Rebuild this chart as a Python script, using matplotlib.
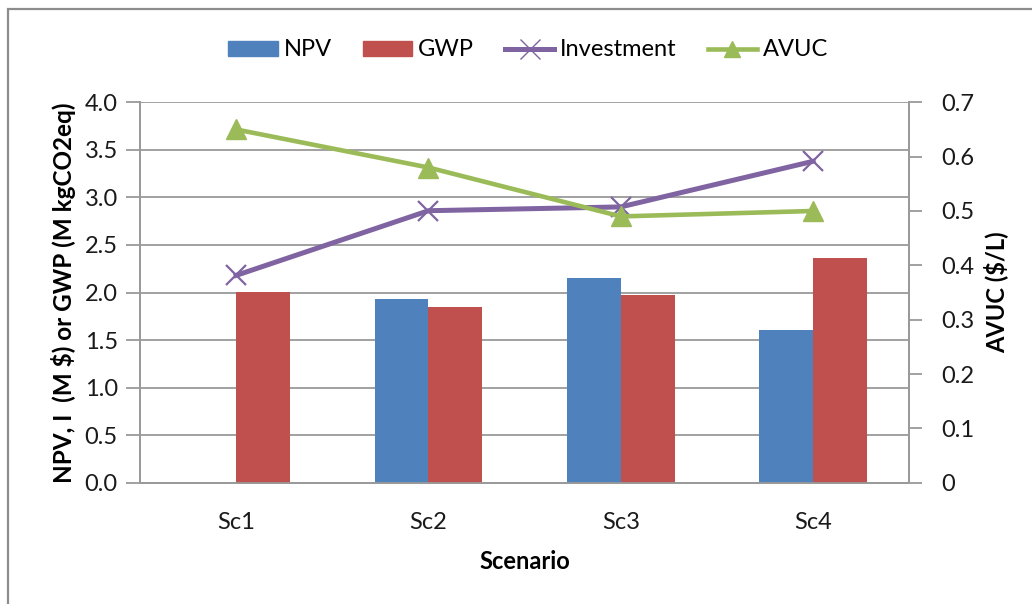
import matplotlib
matplotlib.use("Agg")
import matplotlib.pyplot as plt
import numpy as np
from matplotlib.patches import Rectangle
from matplotlib.lines import Line2D

plt.rcParams['font.family'] = ['Lato', 'DejaVu Sans']

scenarios = ["Sc1", "Sc2", "Sc3", "Sc4"]
npv = [0.0, 1.93, 2.15, 1.61]
gwp = [2.01, 1.85, 1.97, 2.36]
investment = [2.18, 2.86, 2.90, 3.38]
avuc = [0.65, 0.58, 0.49, 0.50]

left_ticks = [0.0, 0.5, 1.0, 1.5, 2.0, 2.5, 3.0, 3.5, 4.0]
left_tick_labels = ["0.0", "0.5", "1.0", "1.5", "2.0", "2.5", "3.0", "3.5", "4.0"]
right_ticks = [0.0, 0.1, 0.2, 0.3, 0.4, 0.5, 0.6, 0.7]
right_tick_labels = ["0", "0.1", "0.2", "0.3", "0.4", "0.5", "0.6", "0.7"]

C_NPV = "#4F81BD"
C_GWP = "#C0504D"
C_INV = "#8064A2"
C_AVUC = "#9BBB59"
C_AXIS = "#9A9A9A"

W, H = 1032, 604
fig = plt.figure(figsize=(W / 100, H / 100), dpi=100)
fig.patch.set_facecolor("white")

# chart-area frame (left and top edges visible)
fig.patches.append(Rectangle((8 / W, -0.1), 1.2, 1.1 - 9 / H,
                             transform=fig.transFigure, fill=False,
                             edgecolor="#8C8C8C", linewidth=1.6))

left, right = 140 / W, 909.3 / W
bottom, top = 1 - 482.7 / H, 1 - 102.3 / H
ax = fig.add_axes([left, bottom, right - left, top - bottom])
ax2 = ax.twinx()

x = np.arange(len(scenarios))
bw = 0.28
ax.bar(x - bw / 2, npv, width=bw, color=C_NPV, zorder=3, label="NPV")
ax.bar(x + bw / 2, gwp, width=bw, color=C_GWP, zorder=3, label="GWP")
ax.plot(x, investment, color=C_INV, linewidth=3.6, marker="x",
        markersize=14, markeredgewidth=1.6, zorder=4, label="Investment")
ax2.plot(x, avuc, color=C_AVUC, linewidth=3.3, marker="^",
         markersize=14, zorder=4, label="AVUC")

ax.set_xlim(-0.5, len(scenarios) - 0.5)
ax.set_ylim(0, 4.0)
ax2.set_ylim(0, 0.7)

ax.set_yticks(left_ticks)
ax.set_yticklabels(left_tick_labels)
ax2.set_yticks(right_ticks)
ax2.set_yticklabels(right_tick_labels)
ax.set_xticks(x)
ax.set_xticklabels(scenarios)

ax.grid(axis="y", color=C_AXIS, linewidth=1.3, zorder=0)
ax.set_axisbelow(True)

for a in (ax, ax2):
    for s in a.spines.values():
        s.set_color(C_AXIS)
        s.set_linewidth(1.3)
    a.spines["top"].set_visible(False)

ax.tick_params(axis="y", length=10, width=1.3, color=C_AXIS, labelsize=17,
               pad=6, labelcolor="#1A1A1A")
ax2.tick_params(axis="y", length=9, width=1.3, color=C_AXIS, labelsize=17,
                pad=14, labelcolor="#1A1A1A")
ax.tick_params(axis="x", length=0, labelsize=17, pad=21, labelcolor="#1A1A1A")

ax.set_xlabel("Scenario", fontsize=17, fontweight="bold", labelpad=12)
ax.set_ylabel("NPV, I  (M $) or GWP (M kgCO2eq)", fontsize=17.5,
              fontweight="bold", labelpad=6)
ax2.set_ylabel("AVUC ($/L)", fontsize=17, fontweight="bold", labelpad=6)

handles = [
    Rectangle((0, 0), 1, 1, color=C_NPV),
    Rectangle((0, 0), 1, 1, color=C_GWP),
    Line2D([], [], color=C_INV, linewidth=3.6, marker="x", markersize=14,
           markeredgewidth=1.0),
    Line2D([], [], color=C_AVUC, linewidth=3.3, marker="^", markersize=12),
]
fig.legend(handles, ["NPV", "GWP", "Investment", "AVUC"], loc="center",
           bbox_to_anchor=(0.512, 1 - 50 / H), ncol=4, frameon=False,
           fontsize=17, handlelength=2.1, handletextpad=0.25,
           columnspacing=1.3, handleheight=0.6)

fig.savefig("out.png", dpi=100, facecolor="white")
